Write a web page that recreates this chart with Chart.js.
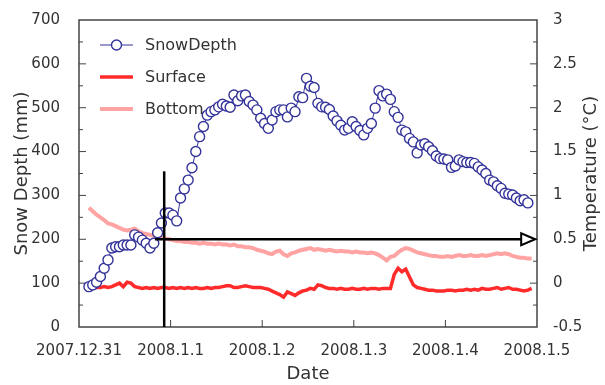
<!DOCTYPE html>
<html>
<head>
<meta charset="utf-8">
<script src="https://cdn.jsdelivr.net/npm/chart.js@4"></script>
<style>
  html, body { margin: 0; padding: 0; background: #fff; }
  canvas { display: block; }
</style>
</head>
<body>
<canvas id="snowChart" width="605" height="385"></canvas>
<script>
// tick labels for the date axis (days since 2007.12.31)
const xTickLabels = ['2007.12.31', '2008.1.1', '2008.1.2', '2008.1.3', '2008.1.4', '2008.1.5'];

// hourly readings, first one a few hours after midnight
const startHour = 2.6;

// snow depth (mm)
const snowDepth = [
  92, 96, 102, 115, 134, 153, 180, 183, 183, 187, 187, 187, 210, 205, 198, 191,
  180, 191, 215, 237, 260, 260, 255, 242, 294, 315, 335, 363, 400, 434, 457, 483,
  491, 495, 502, 508, 504, 501, 529, 516, 527, 529, 514, 506, 495, 476, 464, 453,
  472, 491, 495, 495, 479, 499, 491, 525, 523, 567, 549, 546, 510, 502, 501, 496,
  481, 470, 460, 449, 453, 468, 457, 448, 438, 453, 464, 499, 539, 527, 531, 519,
  491, 478, 449, 445, 430, 422, 397, 415, 418, 411, 402, 390, 384, 383, 381, 364,
  367, 381, 377, 375, 375, 373, 365, 358, 350, 335, 331, 322, 316, 305, 303, 301,
  294, 288, 290, 283
];

// snow surface temperature (°C)
const surfaceTemp = [
  -0.03, -0.04, -0.05, -0.05, -0.04, -0.05, -0.04, -0.02, 0.00, -0.04, 0.01, 0.00,
  -0.04, -0.05, -0.06, -0.05, -0.06, -0.05, -0.06, -0.05, -0.05, -0.06, -0.05, -0.06,
  -0.05, -0.06, -0.05, -0.06, -0.05, -0.06, -0.06, -0.05, -0.06, -0.05, -0.05, -0.04,
  -0.03, -0.03, -0.05, -0.05, -0.04, -0.03, -0.04, -0.05, -0.05, -0.05, -0.06, -0.07,
  -0.09, -0.11, -0.13, -0.16, -0.10, -0.12, -0.14, -0.11, -0.09, -0.08, -0.06, -0.07,
  -0.02, -0.03, -0.05, -0.06, -0.06, -0.07, -0.06, -0.07, -0.07, -0.06, -0.07, -0.07,
  -0.06, -0.07, -0.06, -0.06, -0.07, -0.06, -0.06, -0.06, 0.10, 0.17, 0.13, 0.16,
  0.07, -0.02, -0.05, -0.06, -0.07, -0.08, -0.08, -0.09, -0.09, -0.09, -0.08, -0.08,
  -0.09, -0.08, -0.08, -0.07, -0.08, -0.07, -0.08, -0.06, -0.07, -0.07, -0.06, -0.05,
  -0.07, -0.06, -0.05, -0.07, -0.07, -0.08, -0.09, -0.08, -0.06
];

// snow bottom temperature (°C)
const bottomTemp = [
  0.86, 0.82, 0.78, 0.75, 0.72, 0.68, 0.67, 0.65, 0.63, 0.61, 0.60, 0.61,
  0.62, 0.59, 0.57, 0.56, 0.55, 0.54, 0.53, 0.52, 0.51, 0.50, 0.49, 0.48,
  0.48, 0.47, 0.47, 0.46, 0.46, 0.45, 0.46, 0.45, 0.45, 0.44, 0.45, 0.44,
  0.44, 0.43, 0.44, 0.42, 0.42, 0.41, 0.41, 0.40, 0.38, 0.37, 0.36, 0.34,
  0.33, 0.36, 0.37, 0.33, 0.31, 0.34, 0.35, 0.37, 0.38, 0.39, 0.40, 0.38,
  0.39, 0.38, 0.37, 0.38, 0.37, 0.36, 0.37, 0.36, 0.36, 0.35, 0.36, 0.35,
  0.35, 0.34, 0.35, 0.34, 0.32, 0.29, 0.26, 0.30, 0.31, 0.35, 0.38, 0.40,
  0.39, 0.37, 0.35, 0.34, 0.33, 0.32, 0.31, 0.31, 0.30, 0.30, 0.31, 0.30,
  0.31, 0.32, 0.31, 0.31, 0.32, 0.31, 0.31, 0.32, 0.31, 0.32, 0.33, 0.34,
  0.33, 0.34, 0.33, 0.31, 0.30, 0.29, 0.29, 0.28, 0.28
];

// black marker lines drawn over the plot (data units)
const markerDay = 0.93, markerTop = 355;
const arrowFrom = 0.83, arrowTo = 4.98, arrowLevel = 200;

const textColor = '#333';
const fontFamily = '"DejaVu Sans", sans-serif';
const rightTitle = 'Temperature (°C)';

function toPoints(values) {
  return values.map((v, i) => ({ x: (startHour + i) / 24, y: v }));
}

// box around the plot with inward ticks, like the original
const framePlugin = {
  id: 'frame',
  beforeDatasetsDraw(chart) {
    const { ctx, chartArea: a, scales } = chart;
    ctx.save();
    ctx.strokeStyle = '#444';
    ctx.lineWidth = 1.5;
    ctx.strokeRect(a.left, a.top, a.right - a.left, a.bottom - a.top);
    ctx.lineWidth = 1;
    ctx.beginPath();
    for (let v = 50; v < 700; v += 50) {
      const y = scales.y.getPixelForValue(v);
      const len = v % 100 === 0 ? 7 : 4;
      ctx.moveTo(a.left, y); ctx.lineTo(a.left + len, y);
    }
    for (let v = -0.25; v < 3; v += 0.25) {
      const y = scales.y1.getPixelForValue(v);
      const len = Math.abs(v * 2 - Math.round(v * 2)) < 0.01 ? 7 : 4;
      ctx.moveTo(a.right, y); ctx.lineTo(a.right - len, y);
    }
    for (let d = 1; d < 5; d++) {
      const x = scales.x.getPixelForValue(d);
      ctx.moveTo(x, a.bottom); ctx.lineTo(x, a.bottom - 7);
    }
    ctx.stroke();

    // right axis title reads bottom to top, same as the left one
    ctx.font = '18px ' + fontFamily;
    ctx.fillStyle = textColor;
    ctx.textAlign = 'center';
    ctx.textBaseline = 'middle';
    ctx.translate(591, (a.top + a.bottom) / 2);
    ctx.rotate(-Math.PI / 2);
    ctx.fillText(rightTitle, 0, 0);
    ctx.restore();
  },
  afterDatasetsDraw(chart) {
    const { ctx, chartArea: a, scales } = chart;
    ctx.save();
    // vertical marker
    ctx.strokeStyle = '#000';
    ctx.lineWidth = 2.5;
    ctx.beginPath();
    const mx = scales.x.getPixelForValue(markerDay);
    ctx.moveTo(mx, scales.y.getPixelForValue(markerTop));
    ctx.lineTo(mx, a.bottom);
    ctx.stroke();
    // horizontal arrow with open head
    const ay = scales.y.getPixelForValue(arrowLevel);
    const x0 = scales.x.getPixelForValue(arrowFrom);
    const x1 = scales.x.getPixelForValue(arrowTo);
    ctx.beginPath();
    ctx.moveTo(x0, ay);
    ctx.lineTo(x1 - 14, ay);
    ctx.stroke();
    ctx.lineWidth = 2;
    ctx.fillStyle = '#fff';
    ctx.beginPath();
    ctx.moveTo(x1, ay);
    ctx.lineTo(x1 - 14, ay - 6);
    ctx.lineTo(x1 - 14, ay + 6);
    ctx.closePath();
    ctx.fill();
    ctx.stroke();

    // legend inside the plot
    const items = chart.data.datasets;
    ctx.font = '16px ' + fontFamily;
    ctx.textBaseline = 'middle';
    items.forEach((ds, i) => {
      const y = a.top + 25 + i * 32;
      const lx = a.left + 21;
      ctx.strokeStyle = ds.borderColor;
      ctx.lineWidth = ds.borderWidth;
      ctx.beginPath();
      ctx.moveTo(lx, y); ctx.lineTo(lx + 33, y);
      ctx.stroke();
      if (ds.pointRadius > 0) {
        ctx.lineWidth = ds.pointBorderWidth;
        ctx.fillStyle = '#fff';
        ctx.beginPath();
        ctx.arc(lx + 16.5, y, ds.pointRadius, 0, Math.PI * 2);
        ctx.fill();
        ctx.stroke();
      }
      ctx.fillStyle = textColor;
      ctx.fillText(ds.label, lx + 45, y + 1);
    });
    ctx.restore();
  }
};

new Chart(document.getElementById('snowChart').getContext('2d'), {
  type: 'line',
  data: {
    datasets: [{
      label: 'SnowDepth',
      data: toPoints(snowDepth),
      yAxisID: 'y',
      borderColor: '#33339a',
      borderWidth: 1,
      pointRadius: 5,
      pointBorderWidth: 1.4,
      pointBackgroundColor: '#fff',
      pointBorderColor: '#33339a',
      order: 1
    }, {
      label: 'Surface',
      data: toPoints(surfaceTemp),
      yAxisID: 'y1',
      borderColor: '#ff2a2a',
      borderWidth: 3.5,
      pointRadius: 0,
      order: 3
    }, {
      label: 'Bottom',
      data: toPoints(bottomTemp),
      yAxisID: 'y1',
      borderColor: '#ffa3a3',
      borderWidth: 4,
      pointRadius: 0,
      order: 2
    }]
  },
  options: {
    responsive: false,
    animation: false,
    devicePixelRatio: 1,
    layout: { padding: { top: 20, left: 0, right: 0, bottom: 0 } },
    plugins: { legend: { display: false }, tooltip: { enabled: false } },
    elements: { line: { tension: 0 } },
    scales: {
      x: {
        type: 'linear',
        min: 0,
        max: 5,
        grid: { display: false },
        border: { display: false },
        ticks: {
          stepSize: 1,
          autoSkip: false,
          maxRotation: 0,
          padding: 7,
          color: textColor,
          font: { size: 15, family: fontFamily },
          callback: v => xTickLabels[v]
        },
        title: { display: true, text: 'Date', color: textColor,
                 font: { size: 18, family: fontFamily }, padding: { top: 0, bottom: 0 } },
        afterFit: s => { s.height = 58; }
      },
      y: {
        position: 'left',
        min: 0,
        max: 700,
        grid: { display: false },
        border: { display: false },
        ticks: { stepSize: 100, padding: 11, color: textColor,
                 font: { size: 15, family: fontFamily } },
        title: { display: true, text: 'Snow Depth (mm)', color: textColor,
                 font: { size: 18, family: fontFamily }, padding: { top: 12, bottom: 0 } },
        afterFit: s => { s.width = 79; }
      },
      y1: {
        position: 'right',
        min: -0.5,
        max: 3,
        grid: { display: false },
        border: { display: false },
        ticks: { stepSize: 0.5, padding: 8, color: textColor,
                 font: { size: 15, family: fontFamily },
                 callback: v => String(v) },
        title: { display: false },
        afterFit: s => { s.width = 68; }
      }
    }
  },
  plugins: [framePlugin]
});
</script>
</body>
</html>
